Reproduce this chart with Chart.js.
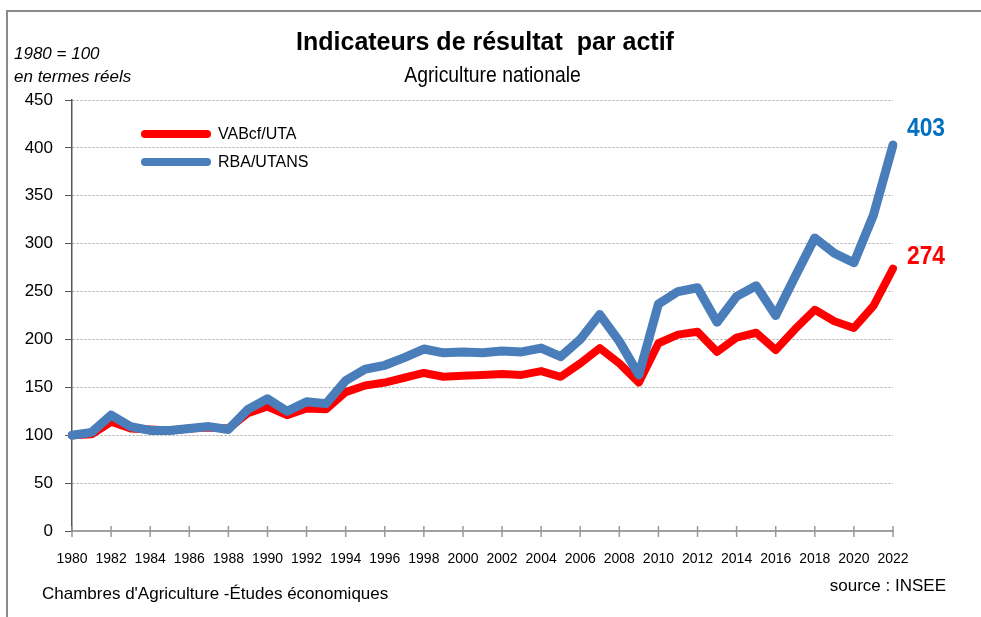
<!DOCTYPE html>
<html lang="fr">
<head>
<meta charset="utf-8">
<script src="https://cdn.jsdelivr.net/npm/chart.js@4/dist/chart.umd.min.js"></script>
<style>
  html, body { margin:0; padding:0; background:#fff; }
  body { width:981px; height:617px; position:relative; overflow:hidden; font-family:"Liberation Sans", Arial, sans-serif; }
  #frame { position:absolute; left:6px; top:10px; width:1100px; height:800px; border-left:2px solid #8a8a8a; border-top:2px solid #8a8a8a; }
  #c { position:absolute; left:0; top:0; }
  .t { position:absolute; white-space:nowrap; color:#000; line-height:1; }
  .leg { position:absolute; height:8px; border-radius:4px; }
</style>
</head>
<body>
<div id="frame"></div>
<canvas id="c" width="981" height="617"></canvas>
<div class="t" style="left:0;width:970px;text-align:center;top:29px;font-weight:bold;font-size:25px;">Indicateurs de résultat&nbsp; par actif</div>
<div class="t" style="left:0;width:985px;text-align:center;top:64px;font-size:22px;transform:scaleX(0.88);">Agriculture nationale</div>
<div class="t" style="left:14px;top:45px;font-style:italic;font-size:17px;">1980 = 100</div>
<div class="t" style="left:14px;top:68px;font-style:italic;font-size:17px;">en termes réels</div>
<div class="leg" style="left:141px;top:130px;width:70px;background:#ff0000;"></div>
<div class="t" style="left:218px;top:126px;font-size:16px;">VABcf/UTA</div>
<div class="leg" style="left:141px;top:158px;width:70px;background:#4a7ebb;"></div>
<div class="t" style="left:218px;top:154px;font-size:16px;">RBA/UTANS</div>
<div class="t" style="left:42px;top:585px;font-size:17px;">Chambres d'Agriculture -Études économiques</div>
<div class="t" style="right:35px;top:577px;font-size:17px;">source : INSEE</div>
<script>
const years = ["1980","1981","1982","1983","1984","1985","1986","1987","1988","1989","1990","1991","1992","1993","1994","1995","1996","1997","1998","1999","2000","2001","2002","2003","2004","2005","2006","2007","2008","2009","2010","2011","2012","2013","2014","2015","2016","2017","2018","2019","2020","2021","2022"];
const vabcfUta = [100,101,114,107,106,105,107,108,107,123,130,121,128,127,145,152,155,160,165,161,162,163,164,163,167,161,175,191,175,155,196,205,208,187,202,207,189,211,231,219,212,235,274];
const rbaUtans = [100,103,121,109,105,105,107,109,106,127,138,125,135,133,157,169,173,181,190,186,187,186,188,187,191,182,200,226,198,163,237,250,254,218,245,256,225,266,306,290,280,330,403];
const yTicks = [0,50,100,150,200,250,300,350,400,450];
const endLabels = ["403","274"];

const xTickPlugin = {
  id:'xTicks',
  afterDraw(chart){
    const ctx = chart.ctx, xs = chart.scales.x, ys = chart.scales.y;
    const y0 = ys.getPixelForValue(0);
    ctx.save();
    ctx.strokeStyle = '#999';
    ctx.lineWidth = 1.5;
    for (let i = 0; i < years.length; i += 2) {
      const x = xs.getPixelForTick(i);
      ctx.beginPath(); ctx.moveTo(x, y0 - 5); ctx.lineTo(x, y0 + 6); ctx.stroke();
    }
    ctx.restore();
  }
};
const endLabelPlugin = {
  id:'endLabels',
  afterDatasetsDraw(chart){
    const ctx = chart.ctx;
    ctx.save();
    ctx.font = 'bold 24px "Liberation Sans", Arial, sans-serif';
    ctx.textAlign = 'left';
    ctx.textBaseline = 'alphabetic';
    const cols = ['#0070c0','#ff0000'];
    const dy = [-9,-5];
    chart.data.datasets.forEach((ds, k) => {
      const meta = chart.getDatasetMeta(k);
      const pt = meta.data[meta.data.length - 1];
      ctx.save();
      ctx.translate(pt.x + 14, pt.y + dy[k]);
      ctx.scale(0.95, 1.05);
      ctx.fillStyle = cols[k];
      ctx.fillText(endLabels[k], 0, 0);
      ctx.restore();
    });
    ctx.restore();
  }
};

new Chart(document.getElementById('c'), {
  type:'line',
  data:{
    labels: years,
    datasets:[
      { label:'RBA/UTANS', data:rbaUtans, borderColor:'#4a7ebb', borderWidth:9, pointRadius:0, tension:0, borderJoinStyle:'round', borderCapStyle:'round', fill:false },
      { label:'VABcf/UTA', data:vabcfUta, borderColor:'#ff0000', borderWidth:8, pointRadius:0, tension:0, borderJoinStyle:'round', borderCapStyle:'round', fill:false }
    ]
  },
  options:{
    responsive:false,
    animation:false,
    layout:{ padding:{ top:100, right:88, bottom:0, left:0 } },
    plugins:{ legend:{ display:false }, tooltip:{ enabled:false }, title:{ display:false } },
    scales:{
      x:{
        type:'category',
        offset:false,
        grid:{ display:false },
        border:{ display:true, color:'#a0a0a0', width:2 },
        ticks:{
          autoSkip:false, maxRotation:0, minRotation:0, padding:12,
          color:'#000',
          font:{ family:'"Liberation Sans", Arial, sans-serif', size:14 },
          callback:(v, i) => (i % 2 === 0 ? years[i] : '')
        },
        afterFit(s){ s.height = 86; }
      },
      y:{
        min:0, max:450,
        afterBuildTicks(s){ s.ticks = yTicks.map(v => ({ value:v })); },
        grid:{ color:'#a6a6a6', lineWidth:1, tickColor:'#555', tickLength:7, drawTicks:true },
        border:{ display:true, color:'#555', width:1.5, dash:[2,2] },
        ticks:{ color:'#000', padding:12, font:{ family:'"Liberation Sans", Arial, sans-serif', size:17 } },
        afterFit(s){ s.width = 72; }
      }
    }
  },
  plugins:[xTickPlugin, endLabelPlugin]
});
</script>
</body>
</html>
